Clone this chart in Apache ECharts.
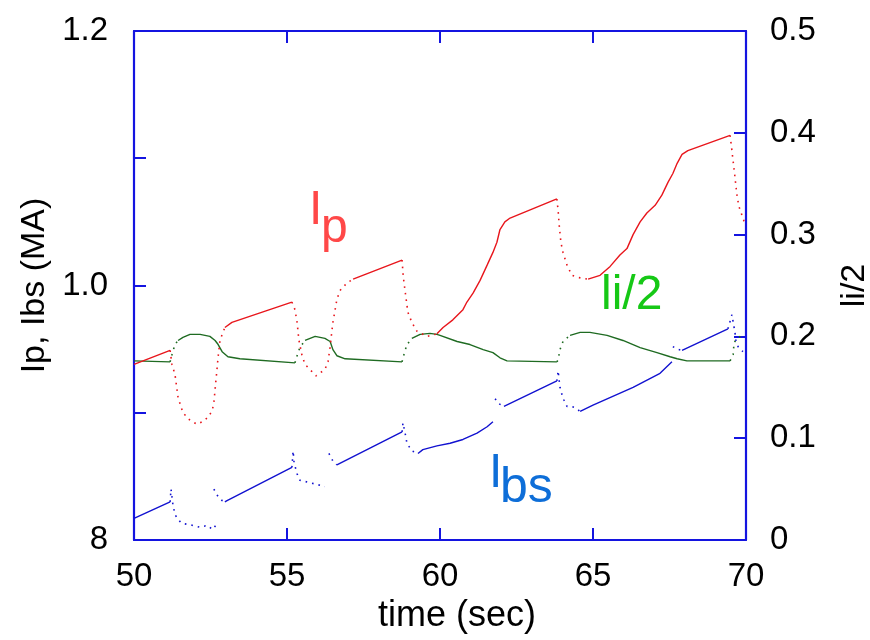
<!DOCTYPE html>
<html>
<head>
<meta charset="utf-8">
<script src="https://cdn.jsdelivr.net/npm/echarts@6/dist/echarts.min.js"></script>
<style>
  html, body { margin: 0; padding: 0; background: #fff; }
  #chart { width: 870px; height: 640px; }
</style>
</head>
<body>
<div id="chart"></div>
<script>
// Plasma current Ip, bootstrap current Ibs (MA, left axis) and li/2 (right axis) vs time (sec).
// Slow ramps are drawn solid; fast transitions (sparse samples) are drawn dotted.
// null entries break a line between separate pieces.

const timeTicks = [50, 55, 60, 65, 70];

const ipRamp = [
  [50.00, 0.938], [51.18, 0.949], null,
  [52.97, 0.967], [53.20, 0.971], [55.16, 0.987], null,
  [57.16, 1.005], [58.76, 1.020], null,
  [59.90, 0.962], [60.10, 0.967], [60.42, 0.973], [60.75, 0.981], [60.88, 0.987],
  [61.08, 0.994], [61.31, 1.004], [61.54, 1.016], [61.73, 1.026], [61.86, 1.034],
  [61.96, 1.044], [62.12, 1.050], [62.29, 1.053], [63.82, 1.068], null,
  [64.84, 1.005], [65.23, 1.008], [65.56, 1.015], [65.88, 1.024], [66.11, 1.029],
  [66.31, 1.040], [66.54, 1.050], [66.76, 1.057], [67.03, 1.063], [67.25, 1.071],
  [67.45, 1.081], [67.61, 1.088], [67.75, 1.096], [67.91, 1.103], [68.10, 1.106],
  [69.48, 1.118]
];

const ipFast = [
  [51.18, 0.949], [51.24, 0.938], [51.34, 0.930], [51.44, 0.912], [51.60, 0.900],
  [51.83, 0.894], [52.06, 0.891], [52.32, 0.894], [52.55, 0.901], [52.61, 0.908],
  [52.68, 0.926], [52.75, 0.944], [52.81, 0.957], [52.97, 0.967], null,
  [55.16, 0.987], [55.26, 0.981], [55.33, 0.971], [55.39, 0.957], [55.49, 0.945],
  [55.59, 0.938], [55.95, 0.929], [56.24, 0.934], [56.34, 0.940], [56.41, 0.952],
  [56.50, 0.971], [56.63, 0.989], [56.73, 0.996], [56.96, 1.002], [57.16, 1.005], null,
  [58.76, 1.020], [58.79, 1.010], [58.82, 1.003], [58.89, 0.990], [58.95, 0.979],
  [59.08, 0.971], [59.25, 0.964], [59.58, 0.960], [59.90, 0.962], null,
  [63.82, 1.068], [63.86, 1.059], [63.89, 1.049], [63.95, 1.034], [64.02, 1.026],
  [64.15, 1.016], [64.31, 1.008], [64.58, 1.006], [64.84, 1.005], null,
  [69.48, 1.118], [69.54, 1.106], [69.64, 1.085], [69.71, 1.070], [69.77, 1.062],
  [69.87, 1.055], [69.93, 1.051], [70.00, 1.048]
];

const liRamp = [
  [50.00, 0.176], [51.18, 0.175], null,
  [51.44, 0.196], [51.60, 0.199], [51.83, 0.202], [52.16, 0.202], [52.48, 0.200],
  [52.65, 0.196], [52.75, 0.192], [52.88, 0.185], [53.07, 0.180], [53.46, 0.178],
  [55.26, 0.174], null,
  [55.59, 0.196], [55.92, 0.200], [56.24, 0.198], [56.41, 0.195], [56.50, 0.187],
  [56.63, 0.181], [56.90, 0.178], [58.76, 0.175], null,
  [59.08, 0.198], [59.35, 0.202], [59.67, 0.203], [59.90, 0.202], [60.00, 0.201],
  [60.56, 0.195], [60.98, 0.192], [61.41, 0.187], [61.73, 0.184], [61.96, 0.179],
  [62.19, 0.176], [63.82, 0.175], null,
  [64.25, 0.201], [64.58, 0.204], [64.90, 0.204], [65.46, 0.201], [65.98, 0.196],
  [66.54, 0.189], [67.09, 0.184], [67.52, 0.180], [67.75, 0.178], [68.07, 0.176],
  [69.48, 0.176]
];

const liFast = [
  [51.18, 0.175], [51.24, 0.182], [51.34, 0.192], [51.44, 0.196], null,
  [55.26, 0.174], [55.33, 0.181], [55.42, 0.189], [55.59, 0.196], null,
  [58.76, 0.175], [58.82, 0.182], [58.92, 0.192], [59.08, 0.198], null,
  [63.82, 0.175], [63.86, 0.177], [63.92, 0.187], [64.02, 0.195], [64.25, 0.201], null,
  [69.48, 0.176], [69.58, 0.182], [69.61, 0.194], [69.71, 0.198], [69.87, 0.201]
];

const ibsRamp = [
  [50.00, 0.817], [51.18, 0.830], null,
  [52.97, 0.830], [53.04, 0.831], [55.16, 0.857], null,
  [56.63, 0.859], [58.76, 0.885], null,
  [59.28, 0.868], [59.44, 0.871], [59.90, 0.874], [60.33, 0.876], [60.75, 0.879],
  [61.21, 0.884], [61.54, 0.889], [61.73, 0.893], null,
  [62.09, 0.905], [63.82, 0.925], null,
  [64.58, 0.901], [65.00, 0.906], [66.31, 0.920], [67.19, 0.931], [67.58, 0.940], null,
  [67.91, 0.949], [69.41, 0.966]
];

const ibsFast = [
  [51.18, 0.830], [51.21, 0.840], [51.27, 0.828], [51.34, 0.820], [51.44, 0.816],
  [51.57, 0.813], [51.83, 0.812], [52.16, 0.810], [52.32, 0.811], [52.48, 0.809],
  [52.58, 0.812], [52.68, 0.810], null,
  [52.61, 0.840], [52.75, 0.834], [52.88, 0.831], [52.97, 0.830], null,
  [55.16, 0.857], [55.20, 0.870], [55.23, 0.861], [55.33, 0.852], [55.42, 0.847],
  [55.59, 0.846], [55.92, 0.844], [56.24, 0.842], null,
  [56.37, 0.868], [56.50, 0.862], [56.63, 0.859], null,
  [58.76, 0.885], [58.79, 0.892], [58.86, 0.884], [58.92, 0.876], [59.08, 0.870],
  [59.28, 0.868], null,
  [61.80, 0.911], [61.93, 0.907], [62.09, 0.905], null,
  [63.82, 0.925], [63.86, 0.933], [63.92, 0.920], [63.99, 0.914], [64.05, 0.910],
  [64.15, 0.905], [64.28, 0.905], [64.41, 0.904], [64.58, 0.901], null,
  [67.61, 0.952], [67.75, 0.950], [67.91, 0.949], null,
  [69.41, 0.966], [69.54, 0.977], [69.64, 0.963], [69.67, 0.957], [69.74, 0.952],
  [69.90, 0.948]
];

const FONT = '"Liberation Sans", Arial, sans-serif';
const AXIS_BLUE = '#1414e0';
const RED = '#e8161c';
const GREEN = '#1f6b22';
const BLUE = '#1212d0';

const chart = echarts.init(document.getElementById('chart'), null, { renderer: 'canvas' });

function lineSeries(data, color, yIndex, dotted) {
  return {
    type: 'line',
    yAxisIndex: yIndex,
    data: data,
    showSymbol: false,
    connectNulls: false,
    silent: true,
    lineStyle: dotted
      ? { color: color, width: 1.6, type: [1.6, 5] }
      : { color: color, width: 1.4 }
  };
}

const tickStyle = { inside: true, length: 12, lineStyle: { color: AXIS_BLUE, width: 2 } };
const lineAxis = { lineStyle: { color: AXIS_BLUE, width: 2.2 } };

chart.setOption({
  animation: false,
  backgroundColor: '#fff',
  grid: { left: 134, right: 124, top: 31, bottom: 100, containLabel: false, outerBoundsMode: 'none' },
  xAxis: [
    {
      type: 'value', position: 'bottom', min: 50, max: 70, interval: 5,
      name: 'time (sec)', nameLocation: 'middle', nameGap: 58,
      nameTextStyle: { fontFamily: FONT, fontSize: 36, color: '#000', padding: [0, 0, 0, 34] },
      axisLine: lineAxis, axisTick: tickStyle, splitLine: { show: false },
      axisLabel: {
        fontFamily: FONT, fontSize: 33, color: '#000', margin: 20,
        formatter: v => (timeTicks.includes(v) ? String(v) : '')
      }
    },
    {
      type: 'value', position: 'top', min: 50, max: 70, interval: 5,
      axisLine: lineAxis, axisTick: tickStyle, splitLine: { show: false },
      axisLabel: { show: false }
    }
  ],
  yAxis: [
    {
      type: 'value', position: 'left', min: 0.8, max: 1.2, interval: 0.1,
      name: 'Ip, Ibs (MA)', nameLocation: 'middle', nameGap: 82, nameRotate: 90,
      nameTextStyle: { fontFamily: FONT, fontSize: 34, color: '#000' },
      axisLine: lineAxis, axisTick: tickStyle, splitLine: { show: false },
      axisLabel: {
        fontFamily: FONT, fontSize: 33, color: '#000', margin: 26,
        formatter: v => {
          const k = Math.round(v * 10);
          if (k === 12) return '1.2';
          if (k === 10) return '1.0';
          if (k === 8) return '8';
          return '';
        }
      }
    },
    {
      type: 'value', position: 'right', min: 0, max: 0.5, interval: 0.1,
      name: 'li/2', nameLocation: 'middle', nameGap: 92, nameRotate: 90,
      nameTextStyle: { fontFamily: FONT, fontSize: 34, color: '#000' },
      axisLine: lineAxis, axisTick: tickStyle, splitLine: { show: false },
      axisLabel: {
        fontFamily: FONT, fontSize: 33, color: '#000', margin: 24,
        formatter: v => {
          const k = Math.round(v * 10);
          return k === 0 ? '0' : (k / 10).toFixed(1);
        }
      }
    }
  ],
  series: [
    lineSeries(liRamp, GREEN, 1, false),
    lineSeries(liFast, GREEN, 1, true),
    lineSeries(ibsRamp, BLUE, 0, false),
    lineSeries(ibsFast, BLUE, 0, true),
    lineSeries(ipRamp, RED, 0, false),
    lineSeries(ipFast, RED, 0, true)
  ],
  graphic: [
    { type: 'text', silent: true, style: { text: 'I', x: 309, y: 211, verticalAlign: 'middle', font: '48px ' + FONT, fill: '#ff4848' } },
    { type: 'text', silent: true, style: { text: 'p', x: 321, y: 229, verticalAlign: 'middle', font: '48px ' + FONT, fill: '#ff4848' } },
    { type: 'text', silent: true, style: { text: 'li/2', x: 601, y: 296, verticalAlign: 'middle', font: '48px ' + FONT, fill: '#16c816' } },
    { type: 'text', silent: true, style: { text: 'I', x: 489, y: 474, verticalAlign: 'middle', font: '48px ' + FONT, fill: '#0e6ed8' } },
    { type: 'text', silent: true, style: { text: 'bs', x: 500, y: 488, verticalAlign: 'middle', font: '50px ' + FONT, fill: '#0e6ed8' } }
  ]
});
</script>
</body>
</html>
